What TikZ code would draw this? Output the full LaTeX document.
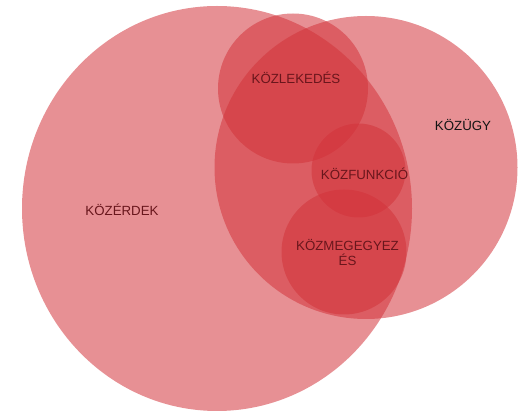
\documentclass[tikz,border=0pt]{standalone}
\usepackage{fontspec}
\setmainfont{Liberation Sans}
\definecolor{setred}{RGB}{210,50,57}
\definecolor{labelred}{RGB}{105,22,28}
\definecolor{labelblack}{RGB}{20,20,20}
\begin{document}
\begin{tikzpicture}[x=1pt,y=-1pt,
  setshape/.style={fill=setred,fill opacity=0.54,draw=none},
  setlabel/.style={text=labelred,font=\fontsize{13.3}{15}\selectfont,align=center,inner sep=0pt},
  outlabel/.style={setlabel,text=labelblack}]
\useasboundingbox (0,0) rectangle (520,411);
\fill[setshape] (217,208.5) ellipse [x radius=195, y radius=202.5];
\fill[setshape] (366,167.5) circle [radius=151.5];
\fill[setshape] (293,88.5) circle [radius=75];
\fill[setshape] (358.5,170.5) circle [radius=47];
\fill[setshape] (344,252) circle [radius=62.5];
\node[setlabel] (kozerdek) at (122,210) {KÖZÉRDEK};
\node[outlabel] (kozugy) at (463,125.5) {KÖZÜGY};
\node[setlabel] (kozlekedes) at (296,77.5) {KÖZLEKEDÉS};
\node[setlabel] (kozfunkcio) at (364.5,174) {KÖZFUNKCIÓ};
\node[setlabel] (kozmegegyezes) at (347.5,253) {KÖZMEGEGYEZ\\ÉS};
\end{tikzpicture}
\end{document}
